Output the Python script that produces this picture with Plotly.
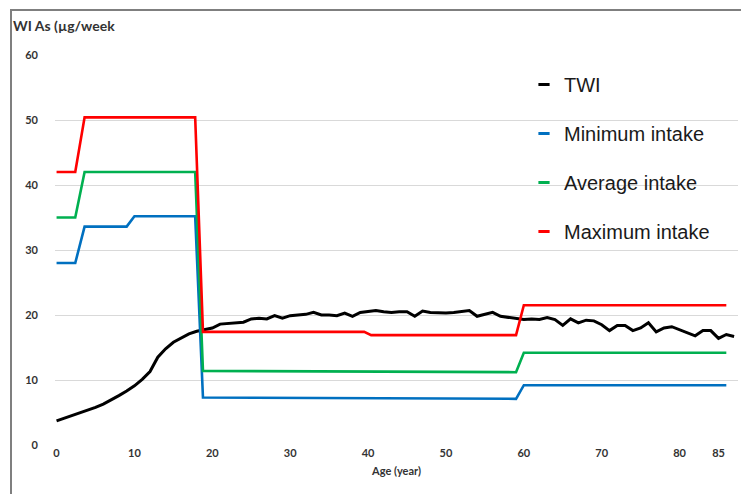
import plotly.graph_objects as go

# ---- data ----
twi_age = list(range(0, 88))
twi_val = [3.7, 4.1, 4.5, 4.9, 5.3, 5.8, 6.3, 6.9, 7.6, 8.3,
           9.1, 10.1, 11.3, 13.5, 14.8, 15.8, 16.5, 17.1, 17.5, 17.8,
           18.0, 18.6, 18.7, 18.8, 18.9, 19.4, 19.5, 19.4, 19.9, 19.5,
           19.9, 20.0, 20.1, 20.4, 20.0, 20.0, 19.9, 20.3, 19.8, 20.4,
           20.6, 20.7, 20.5, 20.4, 20.5, 20.5, 19.8, 20.6, 20.4, 20.3,
           20.3, 20.4, 20.6, 20.7, 19.8, 20.1, 20.4, 19.8, 19.6, 19.5,
           19.3, 19.4, 19.3, 19.6, 19.3, 18.4, 19.4, 18.8, 19.2, 19.1,
           18.5, 17.6, 18.4, 18.4, 17.6, 18.0, 18.8, 17.4, 18.0, 18.2,
           17.7, 17.2, 16.8, 17.6, 17.6, 16.4, 17.0, 16.7]

intake_age = [0, 2.4, 3.6, 9, 10, 17.8, 18.8, 39.5, 40.4, 59, 60, 86]
min_intake = [28, 28, 33.6, 33.6, 35.2, 35.2, 7.3, 7.2, 7.1, 7.1, 9.2, 9.2]
avg_intake = [35, 35, 42, 42, 42, 42, 11.4, 11.3, 11.2, 11.2, 14.2, 14.2]
max_intake = [42, 42, 50.4, 50.4, 50.4, 50.4, 17.4, 17.4, 16.9, 16.9, 21.5, 21.5]

series_names = ["TWI", "Minimum intake", "Average intake", "Maximum intake"]
series_colors = ["#000000", "#0070C0", "#00B050", "#FF0000"]

x_ticks = [0, 10, 20, 30, 40, 50, 60, 70, 80, 85]
y_ticks = [0, 10, 20, 30, 40, 50, 60]

fig = go.Figure()

series_x = [twi_age, intake_age, intake_age, intake_age]
series_y = [twi_val, min_intake, avg_intake, max_intake]
series_w = [3, 2.6, 2.6, 2.6]

for name, color, xs, ys, w in zip(series_names, series_colors, series_x, series_y, series_w):
    fig.add_trace(go.Scatter(x=xs, y=ys, mode="lines", name=name,
                             line=dict(color=color, width=w),
                             showlegend=False, hoverinfo="skip"))

# legend-only entries with short dash symbols
for i, (name, color) in enumerate(zip(series_names, series_colors)):
    fig.add_trace(go.Scatter(x=[None], y=[None], mode="markers", name=name,
                             legendgroup="g%d" % i,
                             marker=dict(symbol="line-ew", size=8,
                                         line=dict(color=color, width=3))))

PL, PR, PT, PB = 47, 730, 47, 437
PW, PH = PR - PL, PB - PT

fig.update_layout(
    width=749, height=494,
    margin=dict(l=PL, r=749 - PR, t=PT, b=494 - PB, autoexpand=False),
    paper_bgcolor="white", plot_bgcolor="white",
    title=dict(text="<b>WI As (µg/week</b>", x=5/749, xanchor="left",
               y=1-18/494, yanchor="middle",
               font=dict(family="Lato", size=14, color="#333333")),
    xaxis=dict(range=[-0.2, 87.5], tickvals=x_ticks, ticktext=[str(v) for v in x_ticks],
               showgrid=False, zeroline=False, showline=False, ticks="",
               ticklabelstandoff=0,
               tickfont=dict(family="Lato", size=11, color="#333333", weight="bold"),
               title=dict(text="<b>Age (year)</b>", standoff=9,
                          font=dict(family="Lato", size=11, color="#333333"))),
    yaxis=dict(range=[0, 60], tickvals=y_ticks, showgrid=True, gridcolor="#D9D9D9",
               gridwidth=1, zeroline=False, showline=False, ticks="",
               ticklabelstandoff=16,
               tickfont=dict(family="Lato", size=11, color="#333333", weight="bold")),
    legend=dict(x=(516 - PL) / PW, y=(PB - 57) / PH,
                xanchor="left", yanchor="top", traceorder="grouped",
                tracegroupgap=20, itemwidth=30, bgcolor="rgba(0,0,0,0)",
                font=dict(family="Liberation Sans", size=20, color="#1A1A1A")),
    shapes=[dict(type="rect", xref="paper", yref="paper",
                 x0=(3 - PL) / PW, x1=(746 - PL) / PW,
                 y0=(PB - 489) / PH, y1=(PB - 2) / PH,
                 line=dict(color="#7F7F7F", width=2), fillcolor="rgba(0,0,0,0)",
                 layer="below")],
)

fig.write_html("out.html")
